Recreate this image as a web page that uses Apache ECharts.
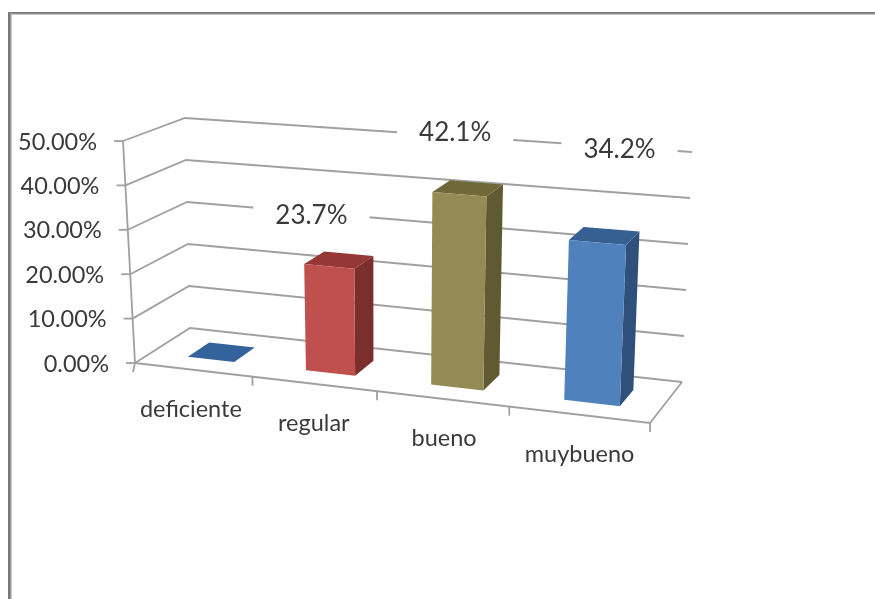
<!DOCTYPE html>
<html>
<head>
<meta charset="utf-8">
<style>
html,body{margin:0;padding:0;background:#fff;overflow:hidden}
#chart{width:875px;height:599px;filter:blur(0.65px)}
</style>
<script src="https://cdn.jsdelivr.net/npm/echarts@6/dist/echarts.min.js"></script>
</head>
<body>
<div id="chart"></div>
<script>
// ---- data ----
const categories = ['deficiente', 'regular', 'bueno', 'muybueno'];
const values = [0, 23.7, 42.1, 34.2];
const valueTicks = [0, 10, 20, 30, 40, 50];
const tickLabels = ['0.00%', '10.00%', '20.00%', '30.00%', '40.00%', '50.00%'];
const dataLabels = ['', '23.7%', '42.1%', '34.2%'];

// ---- layout / style (not data) ----
const FONT = 'Lato, "Open Sans", sans-serif';
const TEXT = '#3a3a3a';
const GRID_LINE = '#a0a0a0';
const colors = [
  {front:'#4f81bd', side:'#2f507b', top:'#34629a'},
  {front:'#c0504d', side:'#7b2f2c', top:'#953735'},
  {front:'#948a54', side:'#5f5a32', top:'#6f6838'},
  {front:'#4f81bd', side:'#2f507b', top:'#376092'}
];
const labelNudge = [[0,0],[-25,-44],[-10,-55],[18,-86]];
const maskPadding = [[0,0],[12,22],[12,22],[12,22]];
const catNudge = [-2,0,2,1];
const GAP = 0.6;                    // gapWidth 150 : bar is 0.4 of a category
const BAR_SHIFT = 0.02;             // small shift along the category axis
const DEPTH = [0.3, 0.7];           // bar position in chart depth
const PERSP = 1.128;                // foreshortening along the category axis

// the eight corners of the 3-D box, in screen pixels
const box = {
  fb0:[135,363], fb1:[650,423], bb0:[190,328], bb1:[682,382],
  ft0:[123,141], ft1:[661,183], bt0:[185,118], bt1:[692,152]
};
const mix = (a,b,t)=>[a[0]+(b[0]-a[0])*t, a[1]+(b[1]-a[1])*t];
// flat grid used only for its scales
const flat = {x:100,y:100,w:400,h:400};

function warp(pt, v){
  const s = (pt[0]-flat.x)/flat.w;
  const w = (flat.y+flat.h-pt[1])/flat.h;
  const t = s/(s+(1-s)*PERSP);
  const fb = mix(box.fb0,box.fb1,t), bb = mix(box.bb0,box.bb1,t);
  const ft = mix(box.ft0,box.ft1,t), bt = mix(box.bt0,box.bt1,t);
  return mix(mix(fb,bb,v), mix(ft,bt,v), w);
}
const poly = (pts,fill)=>({type:'polygon',shape:{points:pts},style:{fill:fill,stroke:null}});
const line = (pts,w)=>({type:'polyline',shape:{points:pts},style:{fill:null,stroke:GRID_LINE,lineWidth:w||1.8}});
const label = (text,x,y,align,size,extra)=>({type:'text',x:x,y:y,
  style:Object.assign({text:text,x:0,y:0,align:align,verticalAlign:'middle',font:size+'px '+FONT,fill:TEXT},extra||{})});

function renderWall(params, api){
  const i = params.dataIndex, val = api.value(0);
  const size = api.size([1,0])[0];
  const xEnd = api.coord([categories.length-1, val])[0] + size/2;
  const xStart = api.coord([0, val])[0] - size/2;
  const y = api.coord([0, val])[1];
  const a = warp([xStart,y],0), b = warp([xStart,y],1), c = warp([xEnd,y],1);
  const kids = [
    line([a,b,c]),
    line([a,[a[0]-9,a[1]]]),
    label(tickLabels[i],a[0]-26,a[1]+1,'right',23.5)
  ];
  if(i===0){
    const base = api.coord([0,0])[1], topY = api.coord([0,valueTicks[valueTicks.length-1]])[1];
    const e = warp([xEnd,base],0), f = warp([xEnd,base],1);
    kids.push(line([warp([xStart,base],0), e, f]));
    kids.push(line([warp([xStart,base],0), warp([xStart,topY],0)]));
  }
  return {type:'group',children:kids};
}
function renderCat(params, api){
  const i = api.value(0);
  const size = api.size([1,0])[0];
  const base = api.coord([i,0]);
  const right = [base[0]+size/2, base[1]], left = [base[0]-size/2, base[1]];
  const p = warp(right,0), q = warp(base,0);
  const kids = [
    line([p,[p[0],p[1]+9]]),
    label(categories[i],q[0]+catNudge[i],q[1]+40,'center',23.5)
  ];
  if(i===0){ const l = warp(left,0); kids.push(line([l,[l[0]-2,l[1]+9]])); }
  return {type:'group',children:kids};
}
function renderBar(params, api){
  const i = api.value(0), val = api.value(1);
  const size = api.size([1,0])[0];
  const bw = size*(1-GAP)/2;
  const b = api.coord([i,0]), t = api.coord([i,val]);
  const cx = b[0]+BAR_SHIFT*size;
  const P = (side,top,depth)=>warp([cx+side*bw, top?t[1]:b[1]], depth);
  const f = DEPTH[0], k = DEPTH[1], c = colors[i];
  return {type:'group',children:[
    poly([P(1,0,f),P(1,0,k),P(1,1,k),P(1,1,f)],c.side),
    poly([P(-1,1,f),P(1,1,f),P(1,1,k),P(-1,1,k)],c.top),
    poly([P(-1,0,f),P(1,0,f),P(1,1,f),P(-1,1,f)],c.front)
  ]};
}
function renderLabel(params, api){
  const i = api.value(0), val = api.value(1);
  if(!dataLabels[i]) return {type:'group',children:[]};
  const p = warp(api.coord([i,val]),0.5);
  return label(dataLabels[i],p[0]+labelNudge[i][0],p[1]+labelNudge[i][1],'center',26,
    {backgroundColor:'#fff',padding:maskPadding[i]});
}

const chart = echarts.init(document.getElementById('chart'),null,{renderer:'canvas'});
chart.setOption({
  animation:false,
  backgroundColor:'#fff',
  grid:{left:flat.x,top:flat.y,width:flat.w,height:flat.h,show:false},
  xAxis:{type:'category',data:categories,show:false},
  yAxis:{type:'value',min:0,max:50,interval:10,show:false},
  graphic:[
    {type:'rect',shape:{x:8,y:12,width:867,height:1},style:{fill:'#7a7a7a'}},
    {type:'rect',shape:{x:8,y:13,width:867,height:1},style:{fill:'#8e8e8e'}},
    {type:'rect',shape:{x:8,y:14,width:867,height:1},style:{fill:'#c4c4c4'}},
    {type:'rect',shape:{x:8,y:12,width:2,height:587},style:{fill:'#7a7a7a'}},
    {type:'rect',shape:{x:10,y:13,width:1,height:586},style:{fill:'#999'}},
    {type:'rect',shape:{x:11,y:14,width:1,height:585},style:{fill:'#c8c8c8'}}
  ],
  series:[
    {type:'custom',renderItem:renderWall,coordinateSystem:'cartesian2d',silent:true,z:1,
      encode:{y:0},data:valueTicks.map(v=>[v])},
    {type:'custom',renderItem:renderCat,coordinateSystem:'cartesian2d',silent:true,z:2,
      encode:{x:0},data:categories.map((c,i)=>[i])},
    {type:'custom',renderItem:renderLabel,coordinateSystem:'cartesian2d',silent:true,z:3,
      encode:{x:0,y:1},data:values.map((v,i)=>[i,v])},
    {type:'custom',renderItem:renderBar,coordinateSystem:'cartesian2d',silent:true,z:4,
      encode:{x:0,y:1},data:values.map((v,i)=>[i,v])}
  ]
});
</script>
</body>
</html>
